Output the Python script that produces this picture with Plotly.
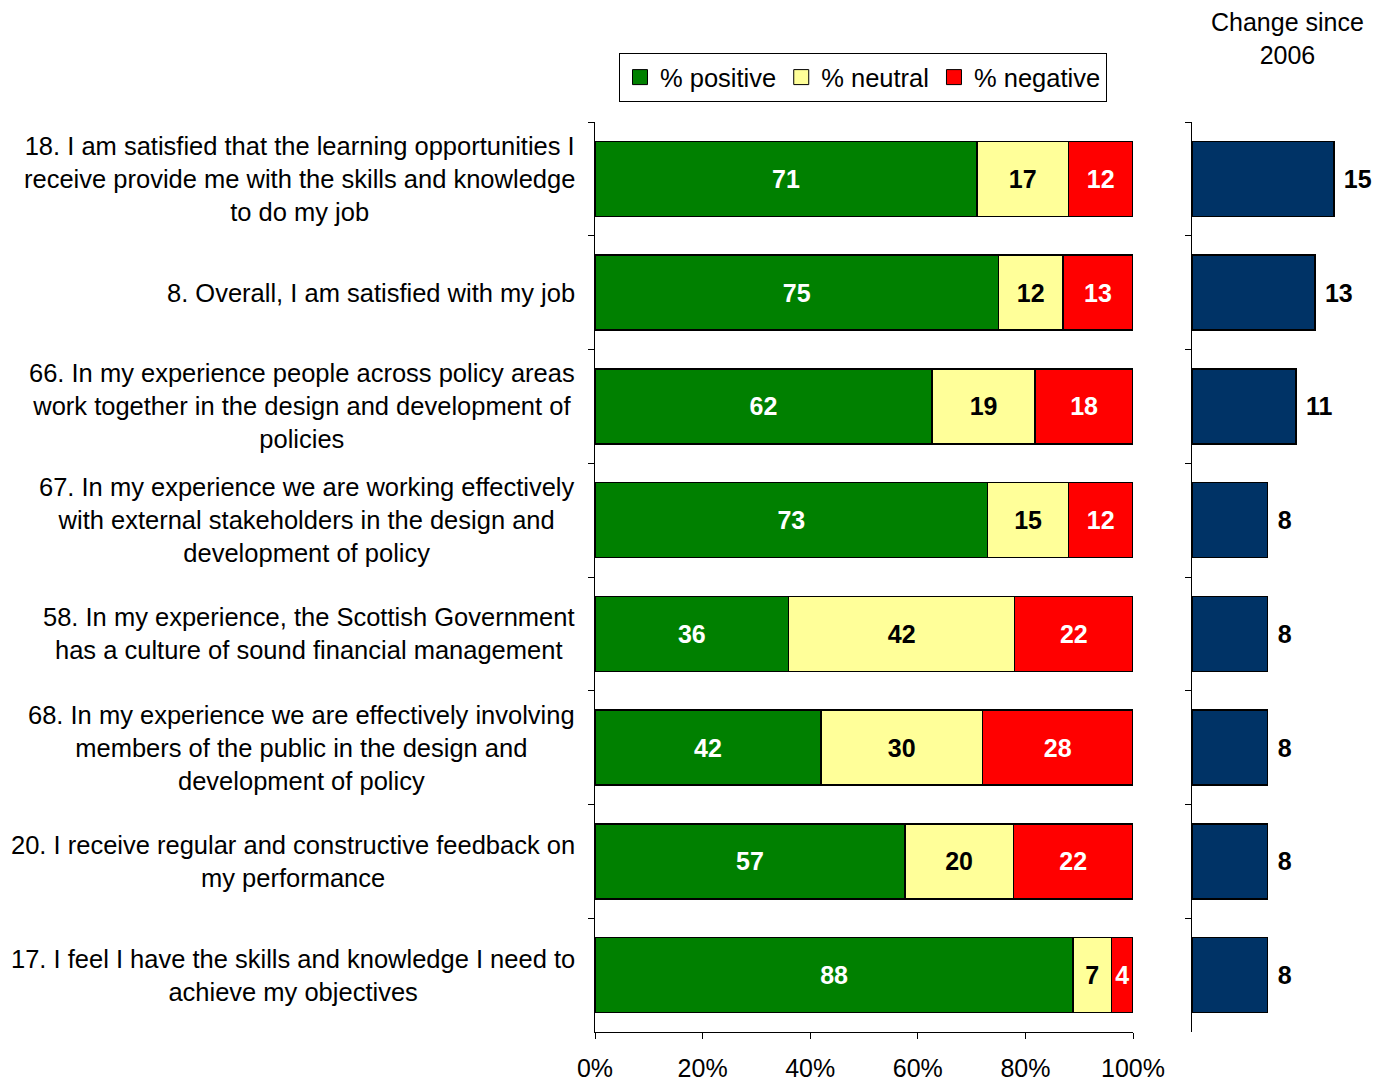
import plotly.graph_objects as go

# Survey statements, top to bottom
questions = [
    "18. I am satisfied that the learning opportunities I<br>receive provide me with the skills and knowledge<br>to do my job",
    "8. Overall, I am satisfied with my job",
    "66. In my experience people across policy areas<br>work together in the design and development of<br>policies",
    "67. In my experience we are working effectively<br>with external stakeholders in the design and<br>development of policy",
    "58. In my experience, the Scottish Government<br>has a culture of sound financial management",
    "68. In my experience we are effectively involving<br>members of the public in the design and<br>development of policy",
    "20. I receive regular and constructive feedback on<br>my performance",
    "17. I feel I have the skills and knowledge I need to<br>achieve my objectives",
]
keys = ["Q18", "Q8", "Q66", "Q67", "Q58", "Q68", "Q20", "Q17"]

positive = [71, 75, 62, 73, 36, 42, 57, 88]
neutral = [17, 12, 19, 15, 42, 30, 20, 7]
negative = [12, 13, 18, 12, 22, 28, 22, 4]
change_since_2006 = [15, 13, 11, 8, 8, 8, 8, 8]

pct_ticks = [0, 20, 40, 60, 80, 100]
pct_labels = ["0%", "20%", "40%", "60%", "80%", "100%"]

series = [
    ("% positive", positive, "#008000", "white"),
    ("% neutral", neutral, "#FFFF99", "black"),
    ("% negative", negative, "#FF0000", "white"),
]

FONT = "Liberation Sans, Arial, sans-serif"
W, H = 1385, 1081

totals = [p + n + g for p, n, g in zip(positive, neutral, negative)]

fig = go.Figure()

# 100% stacked bars: each row scaled to its total
for name, vals, color, tcolor in series:
    fig.add_trace(go.Bar(
        name=name,
        y=keys,
        x=[100 * v / t for v, t in zip(vals, totals)],
        orientation="h",
        text=[str(v) for v in vals],
        texttemplate="%{text}",
        textposition="inside",
        insidetextanchor="middle",
        textangle=0,
        constraintext="none",
        textfont=dict(family=FONT, size=25, color=tcolor, weight="bold"),
        marker=dict(color=color, line=dict(color="black", width=1.5)),
        width=0.66,
        showlegend=False,
        xaxis="x", yaxis="y",
        hoverinfo="skip",
    ))
    # legend key: square swatch with black outline
    fig.add_trace(go.Scatter(
        name=name, x=[None], y=[None], mode="markers",
        marker=dict(symbol="square", size=15, color=color,
                    line=dict(color="black", width=1)),
        xaxis="x", yaxis="y", hoverinfo="skip",
    ))

# Change since 2006 panel
fig.add_trace(go.Bar(
    y=keys,
    x=change_since_2006,
    orientation="h",
    text=[str(v) for v in change_since_2006],
    texttemplate=" %{text}",
    textposition="outside",
    textangle=0,
    cliponaxis=False,
    textfont=dict(family=FONT, size=25, color="black", weight="bold"),
    marker=dict(color="#003366", line=dict(color="black", width=1.5)),
    width=0.66,
    showlegend=False,
    xaxis="x2", yaxis="y2",
    hoverinfo="skip",
))

# Row labels, centred lines, right-aligned block
annotations = []
for k, q in zip(keys, questions):
    annotations.append(dict(
        x=577 / W, xref="paper", xanchor="right",
        y=k, yref="y", yanchor="middle",
        text=q, showarrow=False, align="center",
        font=dict(family=FONT, size=25.5, color="black"),
    ))

annotations.append(dict(
    x=1287 / W, xref="paper", xanchor="center",
    y=1.092, yref="paper", yanchor="middle",
    text="Change since<br>2006", showarrow=False, align="center",
    font=dict(family=FONT, size=25, color="black"),
))

fig.update_layout(
    width=W, height=H,
    autosize=False,
    margin=dict(l=0, r=0, t=122, b=49, autoexpand=False),
    paper_bgcolor="white", plot_bgcolor="white",
    barmode="stack",
    font=dict(family=FONT, size=25, color="black"),
    showlegend=True,
    legend=dict(
        orientation="h",
        x=863 / W, xanchor="center",
        y=1.0758, yanchor="top",
        bordercolor="black", borderwidth=1,
        bgcolor="white",
        font=dict(family=FONT, size=25.5, color="black"),
        traceorder="normal",
        itemclick=False,
        itemwidth=30,
    ),
    xaxis=dict(
        domain=[595 / W, 1133 / W],
        range=[0, 100],
        tickvals=pct_ticks,
        ticktext=pct_labels,
        ticks="outside", ticklen=6, tickcolor="black",
        showline=True, linecolor="black", linewidth=1,
        showgrid=False, zeroline=False,
        tickfont=dict(family=FONT, size=25, color="black"),
        ticklabelstandoff=8,
        automargin=False,
        fixedrange=True,
    ),
    yaxis=dict(
        type="category",
        categoryorder="array", categoryarray=keys,
        autorange="reversed",
        tickson="boundaries",
        ticks="outside", ticklen=6, tickcolor="black",
        showticklabels=False,
        showline=True, linecolor="black", linewidth=1,
        showgrid=False, zeroline=False,
        automargin=False,
        fixedrange=True,
    ),
    xaxis2=dict(
        domain=[1192 / W, 1.0],
        range=[0, 20.4],
        visible=False,
        automargin=False,
        fixedrange=True,
    ),
    yaxis2=dict(
        type="category",
        categoryorder="array", categoryarray=keys,
        autorange="reversed",
        anchor="x2",
        tickson="boundaries",
        ticks="outside", ticklen=6, tickcolor="black",
        showticklabels=False,
        showline=True, linecolor="black", linewidth=1,
        showgrid=False, zeroline=False,
        automargin=False,
        fixedrange=True,
    ),
    annotations=annotations,
)

fig.write_html("out.html", config={"responsive": False, "displayModeBar": False})
